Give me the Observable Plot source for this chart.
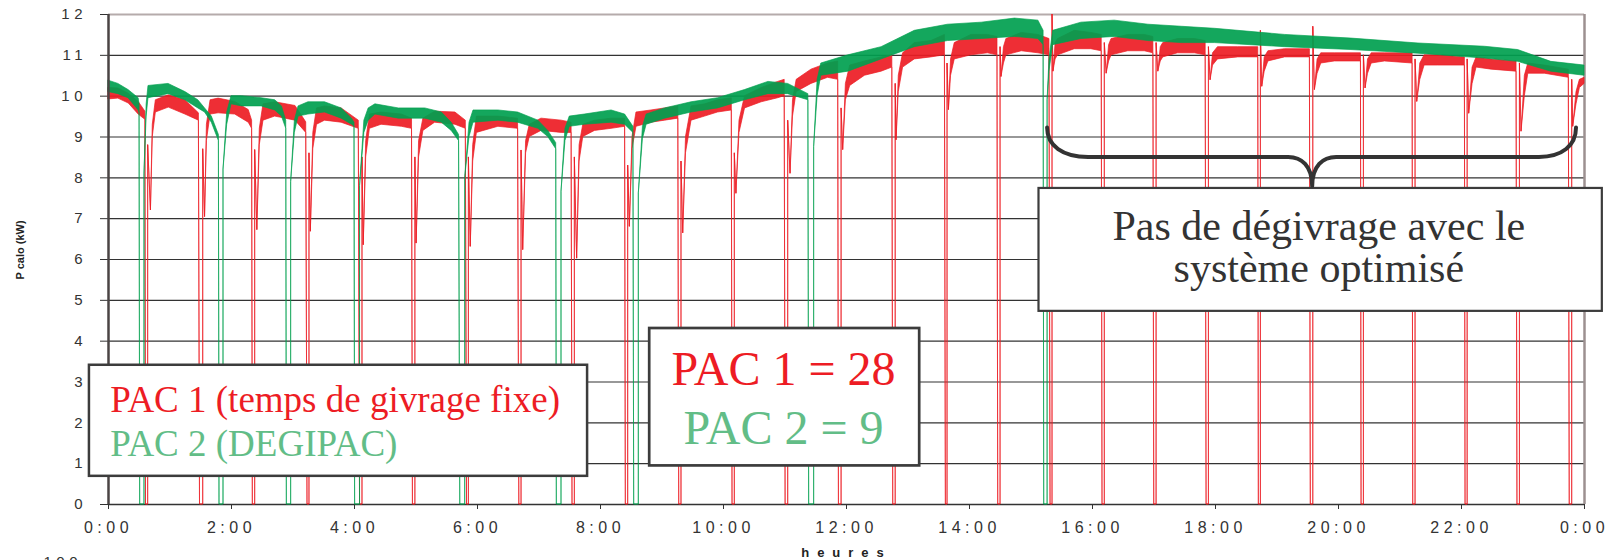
<!DOCTYPE html>
<html><head><meta charset="utf-8">
<script src="https://cdn.jsdelivr.net/npm/d3@7"></script>
<script src="https://cdn.jsdelivr.net/npm/@observablehq/plot@0.6"></script>
<style>html,body{margin:0;padding:0;background:#fff;overflow:hidden}</style>
</head><body><div id="chart"></div>
<script>
// ---------- data ----------
const xTicks = [0, 2, 4, 6, 8, 10, 12, 14, 16, 18, 20, 22, 24];
const xTickLabels = ["0:00", "2:00", "4:00", "6:00", "8:00", "10:00", "12:00",
  "14:00", "16:00", "18:00", "20:00", "22:00", "0:00"];
const yTicks = [0, 1, 2, 3, 4, 5, 6, 7, 8, 9, 10, 11, 12];
const yTickLabels = ["0", "1", "2", "3", "4", "5", "6", "7", "8", "9", "10", "11", "12"];
const gridLevels = [1, 2, 3, 4, 5, 6, 7, 8, 9, 10, 11];

// PAC 1 : [hour, low edge of the band, high edge of the band] (kW)
const pac1 = [
 [0.000, 9.92, 10.20], [0.160, 9.94, 10.19], [0.330, 9.82, 10.06], [0.490, 9.55, 9.86], [0.600, 9.42, 9.62],
 [0.610, 0, 0], [0.645, 0, 0], [0.645, 8.8, 8.8], [0.690, 7.2, 7.2], [0.720, 9.0, 9.3], [0.770, 9.6, 9.9],
 [0.980, 9.72, 10.02], [1.250, 9.55, 9.90], [1.470, 9.40, 9.58],
 [1.488, 0, 0], [1.540, 0, 0], [1.540, 8.7, 8.7], [1.570, 7.04, 7.04], [1.600, 8.9, 9.3], [1.660, 9.55, 9.9],
 [1.790, 9.58, 9.94], [2.060, 9.55, 9.86], [2.280, 9.35, 9.66], [2.335, 9.20, 9.40],
 [2.347, 0, 0], [2.385, 0, 0], [2.385, 8.68, 8.68], [2.420, 6.72, 6.72], [2.460, 8.8, 9.2], [2.520, 9.4, 9.8],
 [2.710, 9.50, 9.85], [3.040, 9.40, 9.76], [3.215, 9.10, 9.36],
 [3.236, 0, 0], [3.268, 0, 0], [3.268, 8.6, 8.6], [3.290, 6.68, 6.68], [3.330, 8.7, 9.1], [3.390, 9.3, 9.7],
 [3.520, 9.40, 9.75], [3.790, 9.35, 9.70], [4.070, 9.20, 9.40],
 [4.090, 0, 0], [4.130, 0, 0], [4.130, 8.5, 8.5], [4.150, 6.35, 6.35], [4.190, 8.5, 8.9], [4.250, 9.2, 9.55],
 [4.440, 9.30, 9.60], [4.770, 9.25, 9.55], [4.935, 9.20, 9.45],
 [4.950, 0, 0], [4.990, 0, 0], [4.990, 8.5, 8.5], [5.010, 6.39, 6.39], [5.050, 8.5, 8.9], [5.120, 9.15, 9.45],
 [5.310, 9.35, 9.62], [5.640, 9.30, 9.60], [5.810, 9.20, 9.40],
 [5.830, 0, 0], [5.860, 0, 0], [5.860, 8.5, 8.5], [5.890, 6.31, 6.31], [5.930, 8.4, 8.8], [5.990, 9.1, 9.5],
 [6.340, 9.25, 9.50], [6.660, 9.20, 9.45],
 [6.680, 0, 0], [6.716, 0, 0], [6.716, 8.67, 8.67], [6.743, 6.23, 6.23], [6.790, 8.6, 8.9], [6.850, 9.0, 9.3],
 [7.040, 9.15, 9.45], [7.370, 9.10, 9.40], [7.530, 9.10, 9.35],
 [7.545, 0, 0], [7.583, 0, 0], [7.583, 8.5, 8.5], [7.620, 6.02, 6.02], [7.660, 8.4, 8.8], [7.720, 9.0, 9.3],
 [7.910, 9.15, 9.40], [8.180, 9.20, 9.45], [8.400, 9.25, 9.45],
 [8.412, 0, 0], [8.450, 0, 0], [8.450, 8.3, 8.3], [8.477, 6.8, 6.8], [8.520, 8.7, 9.0], [8.585, 9.25, 9.6],
 [8.830, 9.35, 9.65], [9.050, 9.40, 9.70], [9.265, 9.45, 9.75],
 [9.280, 0, 0], [9.317, 0, 0], [9.317, 8.4, 8.4], [9.345, 6.64, 6.64], [9.390, 8.6, 9.0], [9.480, 9.4, 9.75],
 [9.700, 9.50, 9.80], [9.910, 9.60, 9.90], [10.135, 9.65, 9.95],
 [10.147, 0, 0], [10.184, 0, 0], [10.184, 8.6, 8.6], [10.210, 7.61, 7.61], [10.260, 9.1, 9.4], [10.350, 9.7, 10.0],
 [10.620, 9.85, 10.20], [10.890, 9.95, 10.35], [10.995, 10.00, 10.40],
 [11.010, 0, 0], [11.052, 0, 0], [11.052, 9.4, 9.4], [11.090, 8.1, 8.1], [11.130, 9.5, 9.9], [11.190, 10.1, 10.4],
 [11.430, 10.30, 10.65], [11.700, 10.45, 10.80], [11.865, 10.40, 10.85],
 [11.877, 0, 0], [11.920, 0, 0], [11.920, 9.7, 9.7], [11.946, 8.68, 8.68], [11.990, 9.9, 10.3], [12.060, 10.25, 10.75],
 [12.300, 10.50, 10.85], [12.570, 10.60, 10.95], [12.745, 10.70, 11.00],
 [12.760, 0, 0], [12.800, 0, 0], [12.800, 10.3, 10.3], [12.814, 8.92, 8.92], [12.850, 10.1, 10.5], [12.920, 10.7, 11.05],
 [13.110, 10.90, 11.30], [13.380, 10.95, 11.35], [13.600, 11.00, 11.50],
 [13.616, 0, 0], [13.643, 0, 0], [13.643, 10.8, 10.8], [13.665, 9.66, 9.66], [13.700, 10.5, 10.9], [13.760, 10.9, 11.3],
 [14.030, 11.00, 11.50], [14.300, 11.05, 11.50], [14.455, 11.00, 11.45],
 [14.467, 0, 0], [14.505, 0, 0], [14.505, 11.2, 11.2], [14.520, 10.47, 10.47], [14.560, 10.8, 11.2], [14.600, 11.0, 11.4],
 [14.850, 11.10, 11.55], [15.120, 11.05, 11.50], [15.300, 11.00, 11.40],
 [15.318, 0, 0], [15.350, 0, 0], [15.350, 12.0, 12.0], [15.365, 10.6, 10.6], [15.400, 10.9, 11.3], [15.440, 11.0, 11.4],
 [15.710, 11.15, 11.60], [15.980, 11.15, 11.55], [16.150, 11.10, 11.50],
 [16.163, 0, 0], [16.200, 0, 0], [16.200, 11.3, 11.3], [16.230, 10.55, 10.55], [16.270, 10.85, 11.25], [16.310, 11.0, 11.4],
 [16.580, 11.10, 11.50], [16.850, 11.10, 11.50], [16.990, 11.05, 11.45],
 [17.004, 0, 0], [17.042, 0, 0], [17.042, 11.3, 11.3], [17.070, 10.6, 10.6], [17.110, 10.85, 11.2], [17.150, 10.95, 11.3],
 [17.390, 11.05, 11.40], [17.665, 11.05, 11.40], [17.840, 11.00, 11.35],
 [17.855, 0, 0], [17.893, 0, 0], [17.893, 11.2, 11.2], [17.920, 10.39, 10.39], [17.960, 10.75, 11.05], [18.040, 10.90, 11.20],
 [18.370, 10.95, 11.20], [18.695, 10.95, 11.20],
 [18.705, 0, 0], [18.738, 0, 0], [18.738, 11.6, 11.6], [18.760, 10.23, 10.23], [18.800, 10.6, 10.95], [18.860, 10.85, 11.10],
 [19.130, 10.95, 11.15], [19.535, 10.95, 11.15],
 [19.550, 0, 0], [19.590, 0, 0], [19.590, 11.7, 11.7], [19.616, 10.15, 10.15], [19.660, 10.55, 10.9], [19.720, 10.80, 11.05],
 [19.940, 10.85, 11.05], [20.365, 10.85, 11.05],
 [20.375, 0, 0], [20.413, 0, 0], [20.413, 11.0, 11.0], [20.440, 10.19, 10.19], [20.480, 10.55, 10.9], [20.540, 10.80, 11.05],
 [20.755, 10.85, 11.05], [21.205, 10.80, 11.05],
 [21.215, 0, 0], [21.253, 0, 0], [21.253, 10.9, 10.9], [21.280, 9.86, 9.86], [21.330, 10.4, 10.8], [21.400, 10.75, 11.00],
 [21.620, 10.75, 11.00], [22.055, 10.75, 10.95],
 [22.066, 0, 0], [22.100, 0, 0], [22.100, 10.9, 10.9], [22.125, 9.57, 9.57], [22.180, 10.3, 10.7], [22.245, 10.70, 10.95],
 [22.490, 10.65, 10.90], [22.895, 10.60, 10.85],
 [22.910, 0, 0], [22.950, 0, 0], [22.950, 10.8, 10.8], [22.976, 9.13, 9.13], [23.030, 10.0, 10.5], [23.086, 10.55, 10.80],
 [23.355, 10.55, 10.75], [23.745, 10.45, 10.65],
 [23.760, 0, 0], [23.800, 0, 0], [23.800, 10.4, 10.4], [23.816, 9.25, 9.25], [23.870, 9.8, 10.1], [23.925, 10.2, 10.4],
 [24.000, 10.30, 10.45]
];

// PAC 2 (DEGIPAC) : [hour, low edge, high edge] (kW)
const pac2 = [
 [0.000, 10.10, 10.38], [0.160, 10.05, 10.30], [0.325, 9.95, 10.15], [0.490, 9.65, 9.95], [0.505, 9.60, 9.80],
 [0.515, 0, 0], [0.585, 0, 0], [0.585, 8.1, 8.1], [0.620, 9.5, 9.8], [0.650, 9.95, 10.25],
 [0.976, 10.05, 10.30], [1.250, 9.90, 10.10], [1.460, 9.70, 9.90], [1.570, 9.60, 9.70], [1.680, 9.35, 9.50], [1.795, 8.90, 9.05],
 [1.805, 0, 0], [1.870, 0, 0], [1.870, 8.2, 8.2], [1.930, 9.3, 9.6], [2.000, 9.8, 10.0],
 [2.170, 9.75, 10.00], [2.490, 9.75, 9.95], [2.710, 9.65, 9.90], [2.820, 9.50, 9.75], [2.890, 9.20, 9.40],
 [2.900, 0, 0], [2.970, 0, 0], [2.970, 7.9, 7.9], [3.030, 9.1, 9.4], [3.090, 9.5, 9.75],
 [3.250, 9.55, 9.85], [3.520, 9.60, 9.85], [3.790, 9.45, 9.70], [3.960, 9.30, 9.45], [4.000, 9.25, 9.35],
 [4.010, 0, 0], [4.090, 0, 0], [4.090, 7.8, 7.8], [4.160, 9.1, 9.4], [4.230, 9.4, 9.7],
 [4.340, 9.55, 9.80], [4.720, 9.45, 9.70], [5.150, 9.45, 9.70], [5.420, 9.35, 9.60], [5.580, 9.15, 9.35], [5.700, 8.90, 9.05],
 [5.720, 0, 0], [5.800, 0, 0], [5.800, 8.0, 8.0], [5.870, 9.0, 9.35], [5.935, 9.35, 9.65],
 [6.340, 9.40, 9.65], [6.660, 9.35, 9.60], [6.990, 9.20, 9.40], [7.150, 9.00, 9.15], [7.280, 8.70, 8.85],
 [7.290, 0, 0], [7.366, 0, 0], [7.366, 7.66, 7.66], [7.430, 8.9, 9.2], [7.500, 9.25, 9.5],
 [7.745, 9.30, 9.55], [8.180, 9.35, 9.65], [8.400, 9.30, 9.55], [8.535, 9.10, 9.25],
 [8.548, 0, 0], [8.623, 0, 0], [8.623, 7.62, 7.62], [8.690, 8.95, 9.25], [8.750, 9.3, 9.55],
 [9.050, 9.45, 9.70], [9.480, 9.60, 9.85], [9.910, 9.70, 9.95], [10.350, 9.90, 10.15], [10.730, 10.05, 10.35],
 [11.050, 10.05, 10.30], [11.380, 9.90, 10.05],
 [11.393, 0, 0], [11.474, 0, 0], [11.474, 8.76, 8.76], [11.530, 10.0, 10.4], [11.590, 10.5, 10.8],
 [12.030, 10.60, 11.00], [12.570, 10.90, 11.20], [13.110, 11.20, 11.60], [13.650, 11.35, 11.75], [14.200, 11.40, 11.80],
 [14.740, 11.45, 11.90], [15.120, 11.40, 11.85], [15.205, 11.25, 11.60],
 [15.215, 0, 0], [15.270, 0, 0], [15.270, 9.9, 9.9], [15.300, 10.6, 10.9], [15.360, 11.25, 11.6],
 [15.820, 11.40, 11.80], [16.360, 11.45, 11.85], [16.910, 11.35, 11.75], [17.450, 11.30, 11.70], [17.990, 11.30, 11.65],
 [19.130, 11.20, 11.50], [20.210, 11.13, 11.41], [21.300, 11.04, 11.29], [22.380, 10.92, 11.21], [22.920, 10.84, 11.13],
 [23.460, 10.60, 10.84], [24.000, 10.50, 10.75]
];

const legendTexts = ["PAC 1 (temps de givrage fixe)", "PAC 2 (DEGIPAC)"];
const countTexts = ["PAC 1 = 28", "PAC 2 = 9"];
const noteTexts = ["Pas de dégivrage avec le", "système optimisé"];
const yTitle = "P calo (kW)";
const xTitle = "heures";
const nextChartLabel = "100";

// ---------- styles ----------
const RED = "#ed1c24", GREEN = "#00a04f", RED_TXT = "#ed1c24", GREEN_TXT = "#62bd87", INK = "#333333";
const SERIF = "'Liberation Serif', 'Times New Roman', serif";

function brace() {
  const args = Array.from(arguments);
  const s = args.find(a => a && typeof a.x === "function" && typeof a.y === "function");
  const X = s.x, Y = s.y;
  const xl = X(15.27), xm = X(19.58), xr = X(23.87);
  const yTop = Y(9.22), yMid = Y(8.5), yTip = Y(7.78);
  const rl = 41, rr = 37, rt = 24;
  const d = `M${xl},${yTop} C${xl},${yTop + (yMid - yTop) * 0.62} ${xl + rl * 0.38},${yMid} ${xl + rl},${yMid}` +
    ` L${xm - rt},${yMid} C${xm - rt * 0.45},${yMid} ${xm},${yMid + (yTip - yMid) * 0.3} ${xm},${yTip}` +
    ` C${xm},${yMid + (yTip - yMid) * 0.3} ${xm + rt * 0.45},${yMid} ${xm + rt},${yMid}` +
    ` L${xr - rr},${yMid} C${xr - rr * 0.38},${yMid} ${xr},${yTop + (yMid - yTop) * 0.62} ${xr},${yTop}`;
  const p = document.createElementNS("http://www.w3.org/2000/svg", "path");
  p.setAttribute("d", d);
  p.setAttribute("fill", "none");
  p.setAttribute("stroke", INK);
  p.setAttribute("stroke-width", 4);
  p.setAttribute("stroke-linecap", "round");
  p.setAttribute("stroke-linejoin", "round");
  return p;
}

const one = [0];
const chart = Plot.plot({
  width: 1607,
  height: 560,
  marginLeft: 108,
  marginRight: 23,
  marginTop: 14,
  marginBottom: 56,
  style: {fontFamily: "'Liberation Sans', Arial, sans-serif", fontSize: "15px", color: INK, background: "#fff", overflow: "visible"},
  x: {domain: [0, 24], ticks: xTicks, tickFormat: d => xTickLabels[xTicks.indexOf(d)], tickSize: 5, tickPadding: 12, label: null},
  y: {domain: [0, 12], ticks: yTicks, tickFormat: d => yTickLabels[yTicks.indexOf(d)], tickSize: 8, tickPadding: 18, label: null},
  marks: [
    Plot.ruleY(gridLevels, {y: d => d, stroke: INK, strokeWidth: 1.2}),
    Plot.ruleY([12], {y: d => d, stroke: "#b5abab", strokeWidth: 2}),
    Plot.ruleY([0], {y: d => d, stroke: INK, strokeWidth: 1.5}),
    Plot.ruleX([24], {x: d => d, y1: 0, y2: 12, stroke: "#9c9090", strokeWidth: 2.5}),
    Plot.area(pac1, {x1: d => d[0], y1: d => d[1], y2: d => d[2], fill: RED, fillOpacity: 0.92, stroke: RED, strokeOpacity: 0.7, strokeWidth: 1}),
    Plot.area(pac2, {x1: d => d[0], y1: d => d[1], y2: d => d[2], fill: GREEN, fillOpacity: 0.92, stroke: GREEN, strokeOpacity: 0.65, strokeWidth: 1}),
    Plot.ruleX([0], {x: d => d, y1: 0, y2: 12, stroke: "#4a4444", strokeWidth: 2.5}),
    // annotation boxes
    Plot.rect(one, {x1: () => -0.31, x2: () => 7.79, y1: () => 0.69, y2: () => 3.41, fill: "#fff", stroke: "#3c3c3c", strokeWidth: 2.5}),
    Plot.rect(one, {x1: () => 8.8, x2: () => 13.19, y1: () => 0.945, y2: () => 4.31, fill: "#fff", stroke: "#3c3c3c", strokeWidth: 2.7}),
    Plot.rect(one, {x1: () => 15.13, x2: () => 24.29, y1: () => 4.73, y2: () => 7.74, fill: "#fff", stroke: "#3c3c3c", strokeWidth: 2.2}),
    brace,
    Plot.text(legendTexts, {x: () => 0.028, y: (d, i) => [2.267, 1.183][i], text: d => d, textAnchor: "start", lineAnchor: "bottom",
      fill: (d, i) => [RED_TXT, GREEN_TXT][i], fontFamily: SERIF, fontSize: 37}),
    Plot.text(countTexts, {x: () => 10.976, y: (d, i) => [2.92, 1.477][i], text: d => d, textAnchor: "middle", lineAnchor: "bottom",
      fill: (d, i) => [RED_TXT, GREEN_TXT][i], fontFamily: SERIF, fontSize: 48}),
    Plot.text(noteTexts, {x: () => 19.68, y: (d, i) => [6.473, 5.45][i], text: d => d, textAnchor: "middle", lineAnchor: "bottom",
      fill: INK, fontFamily: SERIF, fontSize: 42}),
    // axis titles
    Plot.text([yTitle], {frameAnchor: "left", dx: -88, dy: 20, rotate: -90, text: d => d, fontWeight: "bold", fontSize: 11, fill: "#222"}),
    Plot.text([xTitle], {frameAnchor: "bottom", dy: 52, lineAnchor: "bottom", text: d => d, fontWeight: "bold", fontSize: 13, fill: "#222"}),
    Plot.text([nextChartLabel], {frameAnchor: "bottom-left", dx: -31, dy: 62, lineAnchor: "bottom", textAnchor: "end", text: d => d, fontSize: 15, fill: INK})
  ]
});

document.getElementById("chart").appendChild(chart);

// axes below the marks; wide character spacing as in the picture
const svg = chart.tagName.toLowerCase() === "svg" ? chart : chart.querySelector("svg");
const axes = Array.from(svg.querySelectorAll('g[aria-label^="x-axis"], g[aria-label^="y-axis"]'));
const firstMark = Array.from(svg.children).find(c => c.tagName.toLowerCase() !== "style" && !axes.includes(c));
axes.forEach(g => { if (firstMark) svg.insertBefore(g, firstMark); });
svg.querySelectorAll('g[aria-label^="x-axis"] text').forEach(t => {
  t.style.fontSize = "16px"; t.style.letterSpacing = "4.5px";
});
svg.querySelectorAll('g[aria-label^="y-axis"] text').forEach(t => {
  t.style.fontSize = "15px"; t.style.letterSpacing = "4.5px"; t.setAttribute("dx", "4.5");
});
svg.querySelectorAll("text").forEach(t => {
  if (t.textContent === xTitle) t.style.letterSpacing = "8px";
  if (t.textContent === nextChartLabel) { t.style.letterSpacing = "4.5px"; t.setAttribute("dx", "4.5"); }
});
</script>
</body></html>
